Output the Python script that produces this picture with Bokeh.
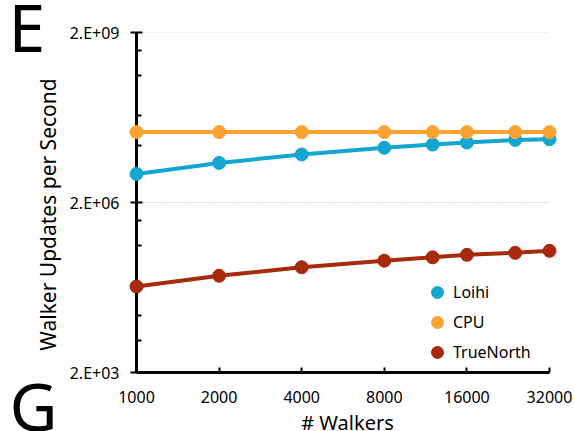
import math
from bokeh.plotting import figure
from bokeh.models import Range1d, FixedTicker
from bokeh.core.properties import value
from bokeh.embed import file_html
from bokeh.resources import INLINE

# ---- data ----
walkers = [1000, 2000, 4000, 8000, 12000, 16000, 24000, 32000]
loihi = [6.4e6, 1.0e7, 1.41e7, 1.85e7, 2.11e7, 2.29e7, 2.55e7, 2.62e7]
cpu = [3.5e7, 3.5e7, 3.5e7, 3.5e7, 3.5e7, 3.5e7, 3.5e7, 3.5e7]
truenorth = [6.6e4, 1.02e5, 1.44e5, 1.88e5, 2.16e5, 2.39e5, 2.59e5, 2.81e5]
series_names = ["Loihi", "CPU", "TrueNorth"]
series_colors = ["#12A6D0", "#FBA233", "#A62A0B"]

x_ticks = [1000, 2000, 4000, 8000, 16000, 32000]
x_tick_labels = ["1000", "2000", "4000", "8000", "16000", "32000"]
y_ticks = [2000, 2000000, 2000000000]
y_tick_labels = ["2.E+03", "2.E+06", "2.E+09"]
y_minor_steps = [3.7, 10, 34, 175, 480]
x_title = "# Walkers"
y_title = "Walker Updates per Second"
panel_letters = ["E", "G"]

FONT = "Noto Sans"

p = figure(width=574, height=431, x_axis_type="log", y_axis_type="log",
           x_range=Range1d(1000, 32000), y_range=Range1d(2000, 2e9 * 1.002),
           output_backend="svg", toolbar_location=None,
           min_border_left=136, min_border_right=25,
           min_border_top=32, min_border_bottom=59)
p.outline_line_color = None
p.background_fill_color = "white"
p.border_fill_color = "white"

# axes
p.xaxis.ticker = FixedTicker(ticks=x_ticks)
p.xaxis.major_label_overrides = {t: l for t, l in zip(x_ticks, x_tick_labels)}
minor = [b * m for b in y_ticks[:-1] for m in y_minor_steps]
p.yaxis.ticker = FixedTicker(ticks=y_ticks, minor_ticks=minor)
p.yaxis.major_label_overrides = {t: l for t, l in zip(y_ticks, y_tick_labels)}

for ax in (p.xaxis, p.yaxis):
    ax.axis_line_color = "black"
    ax.axis_line_width = 3
    ax.major_tick_line_color = "black"
    ax.major_tick_line_width = 2
    ax.minor_tick_line_color = "black"
    ax.minor_tick_line_width = 2
    ax.major_label_text_font = FONT
    ax.major_label_text_font_size = "16px"
    ax.major_label_text_color = "black"

p.xaxis.major_tick_in = 5
p.xaxis.major_tick_out = 0
p.xaxis.minor_tick_in = 0
p.xaxis.minor_tick_out = 0
p.xaxis.major_label_standoff = 18

p.yaxis.major_tick_in = 6
p.yaxis.major_tick_out = 6
p.yaxis.minor_tick_in = 5
p.yaxis.minor_tick_out = 0
p.yaxis.major_label_standoff = 11

# grid
p.xgrid.visible = False
p.ygrid.grid_line_color = "#B0B0B0"
p.ygrid.grid_line_width = 1
p.ygrid.grid_line_dash = "1 2"

# series
all_vals = [loihi, cpu, truenorth]
for name, vals, col in zip(series_names, all_vals, series_colors):
    p.line(walkers, vals, line_width=4, line_color=col, level="overlay")
    p.scatter(walkers, vals, size=13, fill_color=col, line_color=col,
              level="overlay", legend_label=name)

leg = p.legend[0]
leg.location = (286, 5)
leg.orientation = "vertical"
leg.glyph_width = 30
leg.glyph_height = 30
leg.label_height = 20
leg.spacing = 0
leg.padding = 0
leg.margin = 0
leg.label_standoff = 1
leg.border_line_color = None
leg.background_fill_alpha = 0
leg.label_text_font = FONT
leg.label_text_font_size = "16px"
leg.label_text_color = "black"

# texts outside the frame, anchored at the axis corners with pixel offsets
x0, y0, y1 = walkers[0], y_ticks[0], y_ticks[-1]
p.text(x=[x0], y=[y0], text=[y_title], angle=math.pi / 2,
       x_offset=-89, y_offset=-158, text_align="center", text_baseline="middle",
       text_font=value(FONT), text_font_size="21px", text_color="black", level="overlay")
p.text(x=[x0], y=[y0], text=[x_title],
       x_offset=211, y_offset=50, text_align="center", text_baseline="alphabetic",
       text_font=value(FONT), text_font_size="20px", text_color="black", level="overlay")
p.text(x=[x0], y=[y1], text=[panel_letters[0]],
       x_offset=-128, y_offset=-7, text_align="left", text_baseline="alphabetic",
       text_font=value(FONT), text_font_size="66px", text_color="black", level="overlay")
p.text(x=[x0], y=[y0], text=[panel_letters[1]],
       x_offset=-127, y_offset=32, text_align="left", text_baseline="alphabetic",
       text_font=value(FONT), text_font_size="66px", text_color="black", level="overlay")

open("out.html", "w").write(file_html(p, INLINE))
